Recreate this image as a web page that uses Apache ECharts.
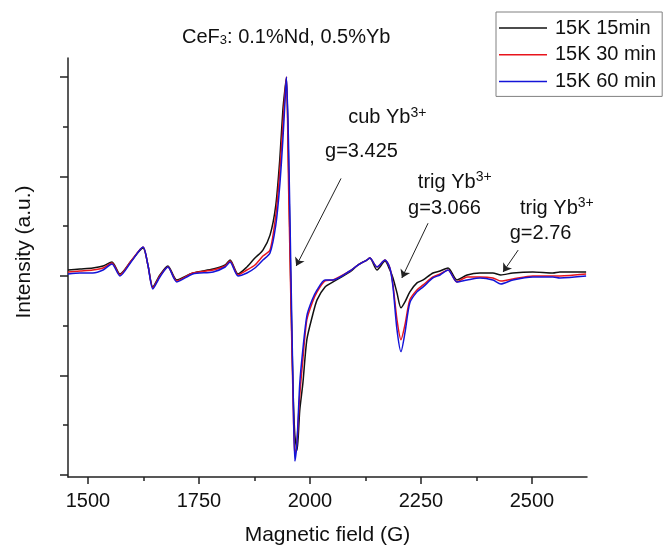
<!DOCTYPE html>
<html>
<head>
<meta charset="utf-8">
<script src="https://cdn.jsdelivr.net/npm/echarts@6/dist/echarts.min.js"></script>
<style>
  html, body { margin: 0; padding: 0; background: #fff; }
  #chart { width: 666px; height: 547px; }
</style>
</head>
<body>
<div id="chart"></div>
<script>
// magnetic field (G)
var field = [1455,1482,1511,1534,1554,1572,1597,1624,1635,1646,1662,1680,1700,1736,1782,1809,1820,1838,1858,1876,
  1894,1910,1923,1932,1939,1944,1947,1952,1957,1962,1966,1971,1977,1984,1993,2005,2016,2034,2052,2090,
  2108,2128,2135,2151,2169,2180,2187,2196,2205,2214,2225,2241,2255,2277,2293,2311,2331,2354,2383,2412,
  2430,2457,2502,2547,2563,2622];

// intensity (a.u.)
var k15min = [0.06,0.07,0.08,0.10,0.14,0.02,0.15,0.28,0.11,-0.11,0.01,0.10,-0.04,0.03,0.07,0.11,0.16,0.02,0.09,0.18,
  0.26,0.41,0.71,1.17,1.67,1.89,1.99,1.07,-0.14,-1.15,-1.60,-1.75,-1.35,-1.08,-0.64,-0.41,-0.24,-0.11,-0.06,0.04,
  0.11,0.16,0.18,0.06,0.15,0.06,-0.02,-0.17,-0.32,-0.26,-0.16,-0.07,-0.04,0.03,0.05,0.08,-0.04,0.01,0.03,0.03,
  0.01,0.03,0.04,0.03,0.04,0.04];
var k30min = [0.04,0.05,0.06,0.08,0.13,0.01,0.15,0.29,0.11,-0.12,0.00,0.09,-0.05,0.03,0.06,0.10,0.15,0.01,0.06,0.11,
  0.20,0.26,0.61,1.05,1.52,1.85,2.00,0.86,-0.24,-1.25,-1.81,-1.65,-1.20,-0.84,-0.44,-0.27,-0.16,-0.05,-0.04,0.05,
  0.11,0.16,0.18,0.09,0.16,0.08,-0.09,-0.44,-0.64,-0.49,-0.24,-0.14,-0.09,-0.01,0.02,0.06,-0.06,-0.01,-0.01,-0.02,
  -0.05,-0.03,0.00,0.00,0.00,0.02];
var k60min = [0.02,0.03,0.03,0.06,0.12,0.00,0.14,0.29,0.11,-0.13,-0.01,0.09,-0.06,0.02,0.04,0.09,0.14,0.00,0.03,0.08,
  0.16,0.23,0.51,0.91,1.37,1.77,2.00,1.27,0.06,-1.15,-1.86,-1.65,-1.08,-0.74,-0.40,-0.24,-0.14,-0.04,-0.04,0.05,
  0.11,0.16,0.18,0.09,0.16,0.08,-0.11,-0.54,-0.76,-0.57,-0.27,-0.16,-0.11,-0.02,0.01,0.06,-0.06,-0.04,-0.02,-0.04,
  -0.08,-0.04,-0.01,-0.01,-0.02,0.00];

var seriesNames = ['15K 15min', '15K 30 min', '15K 60 min'];
var seriesColors = ['#111111', '#e8141c', '#1414d8'];

var xMajor = [1500, 1750, 2000, 2250, 2500];
var xMinor = [1625, 1875, 2125, 2375];
var yMajor = [-2, -1, 0, 1, 2];
var yMinor = [-1.5, -0.5, 0.5, 1.5];

// annotation arrows [from, to] and labels
var arrows = [
  [[2070, 0.98], [1969, 0.10]],
  [[2266, 0.53], [2207, -0.02]],
  [[2469, 0.26], [2435, 0.04]]
];
var notes = [
  { at: [2086, 1.59], text: 'cub Yb{sup|3+}' },
  { at: [2034, 1.25], text: 'g=3.425' },
  { at: [2243, 0.94], text: 'trig Yb{sup|3+}' },
  { at: [2221, 0.68], text: 'g=3.066' },
  { at: [2473, 0.68], text: 'trig Yb{sup|3+}' },
  { at: [2450, 0.43], text: 'g=2.76' }
];

var FONT = 'Liberation Sans, Arial, sans-serif';
var chart = echarts.init(document.getElementById('chart'));

function pairs(ys) {
  return field.map(function (x, i) { return [x, ys[i]]; });
}

var series = [k15min, k30min, k60min].map(function (ys, i) {
  var s = {
    name: seriesNames[i],
    type: 'line',
    data: pairs(ys),
    symbol: 'none',
    smooth: 0.25,
    lineStyle: { width: 1.5, color: seriesColors[i] },
    itemStyle: { color: seriesColors[i] },
    z: 2 + i
  };
  if (i === 0) {
    s.markLine = {
      silent: true,
      symbol: ['none', 'arrow'],
      symbolSize: 8,
      label: { show: false },
      lineStyle: { color: '#222', width: 1, type: 'solid' },
      data: arrows.map(function (a) { return [{ coord: a[0] }, { coord: a[1] }]; })
    };
    s.markPoint = {
      silent: true,
      symbol: 'circle',
      symbolSize: 0,
      label: {
        show: true,
        position: 'right',
        distance: 0,
        color: '#111',
        fontFamily: FONT,
        fontSize: 20,
        lineHeight: 24,
        rich: { sup: { fontSize: 14, lineHeight: 14, verticalAlign: 'top', fontFamily: FONT, color: '#111' } }
      },
      data: notes.map(function (n) {
        return { coord: n.at, value: 0, label: { formatter: n.text } };
      })
    };
  }
  return s;
});

var option = {
  animation: false,
  backgroundColor: '#fff',
  title: {
    text: 'CeF{sub|3}: 0.1%Nd, 0.5%Yb',
    left: 177,
    top: 22,
    textStyle: {
      fontFamily: FONT, fontSize: 20, fontWeight: 'normal', color: '#111',
      rich: { sub: { fontSize: 13, verticalAlign: 'bottom', fontFamily: FONT, color: '#111' } }
    }
  },
  legend: {
    data: seriesNames,
    orient: 'vertical',
    left: 496,
    top: 12,
    padding: [6, 6, 5, 3],
    borderColor: '#808080',
    borderWidth: 1,
    icon: 'rect',
    itemWidth: 48,
    itemHeight: 1.5,
    itemGap: 6.7,
    textStyle: { fontFamily: FONT, fontSize: 20, color: '#111', padding: [0, 0, 0, 3] }
  },
  grid: { left: 68, right: 79, top: 58, bottom: 70, containLabel: false, outerBoundsMode: 'none' },
  xAxis: [{
    type: 'value',
    min: 1455,
    max: 2624,
    name: 'Magnetic field (G)',
    nameLocation: 'middle',
    nameGap: 48,
    nameTextStyle: { fontFamily: FONT, fontSize: 21, color: '#111' },
    axisLine: { onZero: false, lineStyle: { color: '#222', width: 1.5 } },
    axisTick: { customValues: xMajor, length: 7, lineStyle: { color: '#222', width: 1.5 } },
    axisLabel: {
      customValues: xMajor, fontFamily: FONT, fontSize: 20, color: '#111', margin: 14,
      formatter: function (v) { return String(v); }
    },
    splitLine: { show: false }
  }, {
    type: 'value',
    position: 'bottom',
    min: 1455,
    max: 2624,
    axisLine: { show: false, onZero: false },
    axisTick: { customValues: xMinor, length: 4, lineStyle: { color: '#222', width: 1.5 } },
    axisLabel: { show: false },
    splitLine: { show: false }
  }],
  yAxis: [{
    type: 'value',
    min: -2.02,
    max: 2.19,
    axisLine: { show: true, onZero: false, lineStyle: { color: '#222', width: 1.5 } },
    axisTick: { show: true, customValues: yMajor, length: 8, lineStyle: { color: '#222', width: 1.5 } },
    axisLabel: { show: false },
    splitLine: { show: false }
  }, {
    type: 'value',
    position: 'left',
    min: -2.02,
    max: 2.19,
    axisLine: { show: false, onZero: false },
    axisTick: { show: true, customValues: yMinor, length: 5, lineStyle: { color: '#222', width: 1.5 } },
    axisLabel: { show: false },
    splitLine: { show: false }
  }],
  graphic: [{
    type: 'text',
    x: 24,
    y: 252,
    rotation: Math.PI / 2,
    style: {
      text: 'Intensity (a.u.)',
      font: '21px ' + FONT,
      fill: '#111',
      textAlign: 'center',
      textVerticalAlign: 'middle'
    }
  }],
  series: series
};

chart.setOption(option);
</script>
</body>
</html>
